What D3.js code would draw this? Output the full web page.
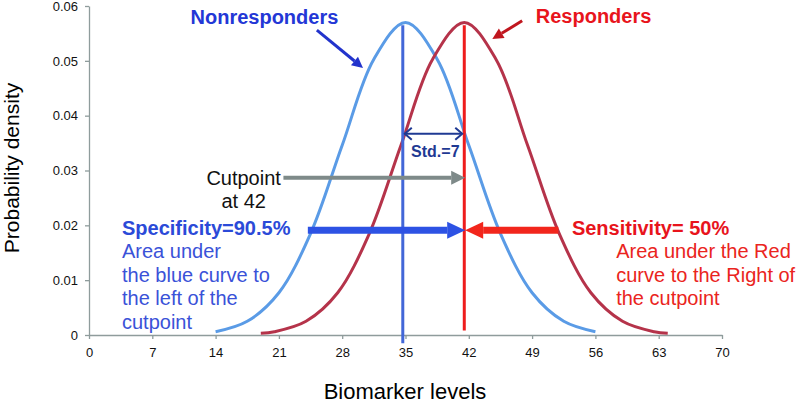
<!DOCTYPE html>
<html>
<head>
<meta charset="utf-8">
<script src="https://cdn.jsdelivr.net/npm/d3@7"></script>
<style>
  body { margin: 0; background: #fff; }
  svg { font-family: "Liberation Sans", Arial, sans-serif; }
</style>
</head>
<body>
<div class="container"></div>
<script>
// values (x in biomarker units, y as density)
const blueX = [14, 17.5, 21, 24.5, 28, 31.5, 35, 38.5, 42, 45.5, 49, 52.5, 56];
const blueY = [0.0006, 0.0025, 0.0077, 0.0185, 0.0346, 0.0503, 0.0570, 0.0503, 0.0346, 0.0185, 0.0077, 0.0025, 0.0006];

const redX = [19, 20.5, 24, 27.5, 31, 34.5, 38, 41.5, 45, 48.5, 52, 55.5, 59, 62.5, 64];
const redY = [0.0003, 0.0006, 0.0025, 0.0077, 0.0185, 0.0346, 0.0503, 0.0570, 0.0503, 0.0346, 0.0185, 0.0077, 0.0025, 0.0006, 0.0003];

const xTicks = [0, 7, 14, 21, 28, 35, 42, 49, 56, 63, 70];
const yTicks = [0, 0.01, 0.02, 0.03, 0.04, 0.05, 0.06];

// vertical mean / cutpoint lines
const meanBlue = 34.7;
const cutpoint = 41.5;

const width = 800;
const height = 407;

const svg = d3.select('.container')
    .append('svg')
    .attr('width', width)
    .attr('height', height);

const xScale = d3.scaleLinear().domain([0, 70]).range([89, 722]);
const yScale = d3.scaleLinear().domain([0, 0.06]).range([335, 6]);

// axes
const xAxis = d3.axisBottom(xScale).tickValues(xTicks).tickSize(4).tickSizeOuter(0).tickPadding(9);
const yAxis = d3.axisLeft(yScale).tickValues(yTicks).tickSize(4).tickSizeOuter(0).tickPadding(7)
    .tickFormat(d => d === 0 ? '0' : d3.format('.2f')(d));

const gx = svg.append('g')
    .attr('transform', `translate(0, ${yScale(0)})`)
    .call(xAxis);
const gy = svg.append('g')
    .attr('transform', `translate(${xScale(0)}, 0)`)
    .call(yAxis);

[gx, gy].forEach(g => {
    g.selectAll('path, line').attr('stroke', '#8f9c9c').attr('stroke-width', 1.3);
    g.selectAll('text').attr('fill', '#111').style('font-size', '13px');
});

// axis titles
svg.append('text')
    .attr('x', 405).attr('y', 399)
    .attr('text-anchor', 'middle')
    .style('font-size', '22px')
    .text('Biomarker levels');

svg.append('text')
    .attr('transform', 'translate(19, 168) rotate(-90)')
    .attr('text-anchor', 'middle')
    .style('font-size', '21px')
    .text('Probability density');

// curves
const line = d3.line()
    .x(d => xScale(d[0]))
    .y(d => yScale(d[1]))
    .curve(d3.curveCatmullRom.alpha(0.5));

svg.append('path')
    .datum(blueX.map((x, i) => [x, blueY[i]]))
    .attr('d', line)
    .attr('fill', 'none')
    .attr('stroke', '#5a9be6')
    .attr('stroke-width', 3);

svg.append('path')
    .datum(redX.map((x, i) => [x, redY[i]]))
    .attr('d', line)
    .attr('fill', 'none')
    .attr('stroke', '#b5334a')
    .attr('stroke-width', 3);

// vertical lines
svg.append('line')
    .attr('x1', xScale(meanBlue)).attr('x2', xScale(meanBlue))
    .attr('y1', yScale(0.0565)).attr('y2', yScale(-0.0015))
    .attr('stroke', '#4267d8').attr('stroke-width', 3);

svg.append('line')
    .attr('x1', xScale(cutpoint)).attr('x2', xScale(cutpoint))
    .attr('y1', yScale(0.0565)).attr('y2', yScale(0.0008))
    .attr('stroke', '#ee1c1c').attr('stroke-width', 3);

// arrow helper: shaft + filled head
function arrow(x1, y1, x2, y2, color, w, headLen, headW) {
    const px1 = xScale(x1), py1 = yScale(y1), px2 = xScale(x2), py2 = yScale(y2);
    const ang = Math.atan2(py2 - py1, px2 - px1);
    const bx = px2 - headLen * Math.cos(ang), by = py2 - headLen * Math.sin(ang);
    svg.append('line')
        .attr('x1', px1).attr('y1', py1).attr('x2', bx).attr('y2', by)
        .attr('stroke', color).attr('stroke-width', w);
    const nx = -Math.sin(ang) * headW / 2, ny = Math.cos(ang) * headW / 2;
    svg.append('path')
        .attr('d', `M${px2},${py2}L${bx + nx},${by + ny}L${bx - nx},${by - ny}Z`)
        .attr('fill', color);
}

// label arrows
arrow(25.2, 0.0556, 30.3, 0.0487, '#2233cc', 3, 11, 11);
arrow(47.9, 0.0573, 44.6, 0.0540, '#c0161e', 3, 11, 11);

// cutpoint arrow (grey)
arrow(21.5, 0.0287, 41.6, 0.0287, '#7e8a89', 4, 14, 14);

// specificity / sensitivity arrows
arrow(24.2, 0.0191, 41.6, 0.0191, '#2d52e4', 7, 18, 17);
arrow(51.9, 0.0191, 41.6, 0.0191, '#f2261c', 7, 18, 17);

// std double arrow
const stdY = yScale(0.0367);
const sx1 = xScale(meanBlue) + 2, sx2 = xScale(cutpoint) - 2;
svg.append('line')
    .attr('x1', sx1).attr('x2', sx2).attr('y1', stdY).attr('y2', stdY)
    .attr('stroke', '#1f3a93').attr('stroke-width', 2);
svg.append('path')
    .attr('d', `M${sx1 + 7},${stdY - 6}L${sx1},${stdY}L${sx1 + 7},${stdY + 6}M${sx2 - 7},${stdY - 6}L${sx2},${stdY}L${sx2 - 7},${stdY + 6}`)
    .attr('fill', 'none').attr('stroke', '#1f3a93').attr('stroke-width', 2);

// text annotations
const labels = [
    {t: 'Nonresponders', x: 19.4, y: 0.0568, a: 'middle', c: '#2337d6', b: true, s: 20},
    {t: 'Responders', x: 55.8, y: 0.0569, a: 'middle', c: '#e8141c', b: true, s: 20},
    {t: 'Std.=7', x: 38.3, y: 0.0325, a: 'middle', c: '#1f3a93', b: true, s: 16},
    {t: 'Cutpoint', x: 17.1, y: 0.0274, a: 'middle', c: '#111', b: false, s: 20},
    {t: 'at 42', x: 17.1, y: 0.0232, a: 'middle', c: '#111', b: false, s: 20},
    {t: 'Specificity=90.5%', x: 3.65, y: 0.0182, a: 'start', c: '#2b4ad8', b: true, s: 20},
    {t: 'Area under', x: 3.65, y: 0.0140, a: 'start', c: '#3a52d8', b: false, s: 20},
    {t: 'the blue curve to', x: 3.65, y: 0.0097, a: 'start', c: '#3a52d8', b: false, s: 20},
    {t: 'the left of the', x: 3.65, y: 0.0055, a: 'start', c: '#3a52d8', b: false, s: 20},
    {t: 'cutpoint', x: 3.65, y: 0.0011, a: 'start', c: '#3a52d8', b: false, s: 20},
    {t: 'Sensitivity= 50%', x: 53.4, y: 0.0182, a: 'start', c: '#e8141c', b: true, s: 20},
    {t: 'Area under the Red', x: 58.3, y: 0.0140, a: 'start', c: '#ea2420', b: false, s: 20},
    {t: 'curve to the Right of', x: 58.3, y: 0.0097, a: 'start', c: '#ea2420', b: false, s: 20},
    {t: 'the cutpoint', x: 58.3, y: 0.0055, a: 'start', c: '#ea2420', b: false, s: 20}
];

svg.selectAll('text.note')
    .data(labels)
    .enter()
    .append('text')
    .attr('class', 'note')
    .attr('x', d => xScale(d.x))
    .attr('y', d => yScale(d.y))
    .attr('text-anchor', d => d.a)
    .attr('fill', d => d.c)
    .style('font-weight', d => d.b ? 'bold' : 'normal')
    .style('font-size', d => d.s + 'px')
    .text(d => d.t);
</script>
</body>
</html>
